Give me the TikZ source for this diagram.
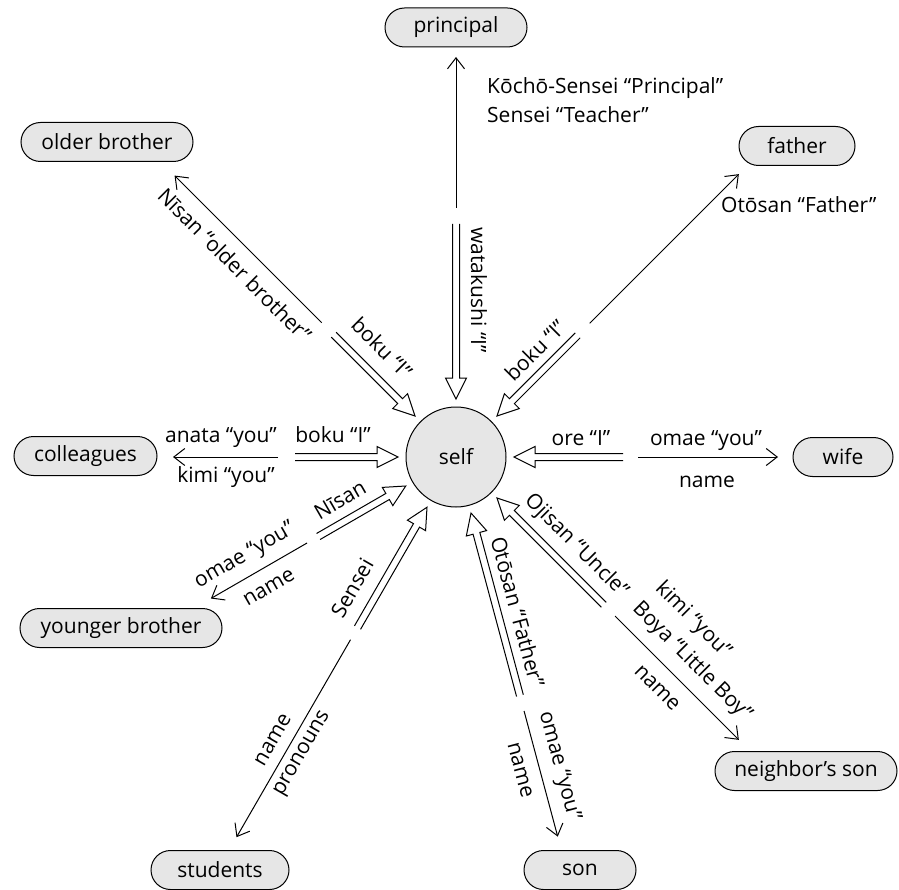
\documentclass[tikz,border=0pt]{standalone}
\usepackage{fontspec}
\setmainfont{Open Sans}
\usetikzlibrary{calc,arrows.meta}
\definecolor{boxgray}{HTML}{E6E6E6}
\tikzset{
  every node/.style={font=\fontsize{21}{25}\selectfont},
  person/.style={draw, fill=boxgray, rounded corners=19.5pt, minimum height=39pt,
                 inner sep=0pt, line width=1pt},
  selfnode/.style={draw, fill=boxgray, circle, minimum size=100pt, inner sep=0pt, line width=1pt},
  lbl/.style={inner sep=0pt},
  plain/.style={line width=1pt, -{Straight Barb[length=11pt,width=17pt]}},
  % hollow block arrow: two parallel lines ending in an open triangular head,
  % the head stopping 58pt from the target's centre
  hollow/.style={line width=1pt, to path={
    let \p1=(\tikztostart), \p2=($(\tikztotarget)!58pt!(\tikztostart)$),
        \n1={atan2(\y2-\y1,\x2-\x1)} in
    ($(\p1)+({\n1+90}:3.5pt)$)
    -- ($(\p2)+({\n1+180}:21pt)+({\n1+90}:3.5pt)$)
    -- ($(\p2)+({\n1+180}:21pt)+({\n1+90}:10.5pt)$)
    -- (\p2)
    -- ($(\p2)+({\n1+180}:21pt)+({\n1-90}:10.5pt)$)
    -- ($(\p2)+({\n1+180}:21pt)+({\n1-90}:3.5pt)$)
    -- ($(\p1)+({\n1-90}:3.5pt)$)
  }},
}
\begin{document}
\begin{tikzpicture}[x=1pt,y=1pt]
\useasboundingbox (0,0) rectangle (899,-890);

% centre
\node[selfnode] (self) at (456,-457) {self};

% people
\node[person, minimum width=142pt] (principal) at (456,-27.5) {principal};
\node[person, minimum width=172pt] (older) at (107,-142) {older brother};
\node[person, minimum width=116pt] (father) at (797,-146) {father};
\node[person, minimum width=143pt] (colleagues) at (85.5,-456) {colleagues};
\node[person, minimum width=100pt] (wife) at (843,-457) {wife};
\node[person, minimum width=202pt] (younger) at (121,-628) {younger brother};
\node[person, minimum width=138pt] (students) at (220,-870) {students};
\node[person, minimum width=112pt] (son) at (580,-870) {son};
\node[person, minimum width=182pt] (neighbor) at (806,-771) {neighbor’s son};

% break points of every spoke: b = back of the hollow arrow,
% s = start of the plain arrow, t = tip of the plain arrow
\foreach \nm/\ang/\rb/\rs/\rt in {
    p/90/233/249/400, ob/135/173/190/398, fa/45/172/189/400,
    co/180/161/178/283, wi/0/167/182/322, yb/210/159/172/283,
    st/240/197/211/439, so/285/247/263/393, ne/315/209/225/400} {
  \coordinate (\nm-b) at ($(self)+(\ang:\rb)$);
  \coordinate (\nm-s) at ($(self)+(\ang:\rs)$);
  \coordinate (\nm-t) at ($(self)+(\ang:\rt)$);
}

% terms used by self (hollow) and for self (plain)
\foreach \nm in {p,ob,fa,co,wi,yb,st,so,ne} {
  \draw[hollow] (\nm-b) to (self);
  \draw[plain] (\nm-s) -- (\nm-t);
}

% principal
\node[lbl, rotate=-90] (l-wata) at (479,-290) {watakushi “I”};
\node[lbl, anchor=base west] (l-kocho) at (487,-94) {Kōchō-Sensei “Principal”};
\node[lbl, anchor=base west] (l-sensei) at (487,-123) {Sensei “Teacher”};

% older brother
\node[lbl, rotate=-45] (l-nisan1) at (235,-265) {Nīsan “older brother”};
\node[lbl, rotate=-45] (l-boku1) at (382,-348) {boku “I”};

% father
\node[lbl, anchor=base west] (l-otosan1) at (721,-213) {Otōsan “Father”};
\node[lbl, rotate=45] (l-boku2) at (535,-350) {boku “I”};

% colleagues
\node[lbl, anchor=base] (l-anata) at (221,-442) {anata “you”};
\node[lbl, anchor=base] (l-boku3) at (333,-442) {boku “I”};
\node[lbl, anchor=base] (l-kimi1) at (226,-482) {kimi “you”};

% wife
\node[lbl, anchor=base] (l-ore) at (581,-445) {ore “I”};
\node[lbl, anchor=base] (l-omae1) at (706,-445) {omae “you”};
\node[lbl, anchor=base] (l-name1) at (707,-487) {name};

% younger brother
\node[lbl, rotate=30] (l-nisan2) at (340,-500) {Nīsan};
\node[lbl, rotate=30] (l-omae2) at (245,-556) {omae “you”};
\node[lbl, rotate=30] (l-name2) at (269,-588) {name};

% students
\node[lbl, rotate=60] (l-sensei2) at (352,-588) {Sensei};
\node[lbl, rotate=60] (l-name3) at (273,-740) {name};
\node[lbl, rotate=60] (l-pron) at (303,-754) {pronouns};

% son
\node[lbl, rotate=-75] (l-otosan2) at (518,-612) {Otōsan “Father”};
\node[lbl, rotate=-75] (l-omae3) at (559,-766) {omae “you”};
\node[lbl, rotate=-75] (l-name4) at (520,-770) {name};

% neighbor's son
\node[lbl, rotate=-45] (l-ojisan) at (576,-546) {Ojisan “Uncle”};
\node[lbl, rotate=-45] (l-kimi2) at (693,-620) {kimi “you”};
\node[lbl, rotate=-45] (l-boya) at (692,-662) {Boya “Little Boy”};
\node[lbl, rotate=-45] (l-name5) at (657,-688) {name};
\end{tikzpicture}
\end{document}
